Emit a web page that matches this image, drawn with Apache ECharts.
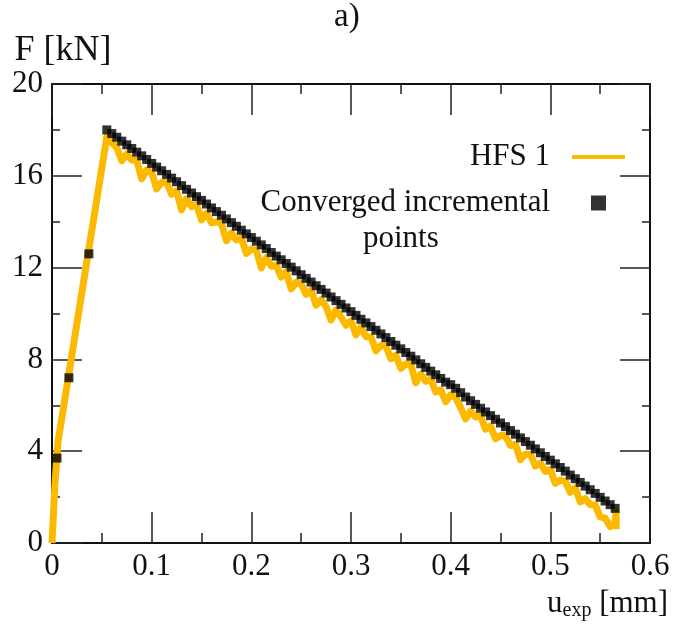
<!DOCTYPE html>
<html>
<head>
<meta charset="utf-8">
<script src="https://cdn.jsdelivr.net/npm/echarts@6/dist/echarts.min.js"></script>
<style>html,body{margin:0;padding:0;background:#fff}#c{width:685px;height:627px}</style>
</head>
<body>
<div id="c"></div>
<script>
// ---- data ----
const xTicks = [0, 0.1, 0.2, 0.3, 0.4, 0.5, 0.6];
const yTicks = [0, 4, 8, 12, 16, 20];

// HFS 1 curve: loading branch, softening branch, end
const hfsRiseX = [0, 0.003, 0.006];
const hfsRiseF = [0, 2.6, 4.4];
const descX = [
  0.055,0.060,0.065,0.070,0.075,0.080,0.085,0.090,0.095,0.100,
  0.105,0.110,0.115,0.120,0.125,0.130,0.135,0.140,0.145,0.150,
  0.155,0.160,0.165,0.170,0.175,0.180,0.185,0.190,0.195,0.200,
  0.205,0.210,0.215,0.220,0.225,0.230,0.235,0.240,0.245,0.250,
  0.255,0.260,0.265,0.270,0.275,0.280,0.285,0.290,0.295,0.300,
  0.305,0.310,0.315,0.320,0.325,0.330,0.335,0.340,0.345,0.350,
  0.355,0.360,0.365,0.370,0.375,0.380,0.385,0.390,0.395,0.400,
  0.405,0.410,0.415,0.420,0.425,0.430,0.435,0.440,0.445,0.450,
  0.455,0.460,0.465,0.470,0.475,0.480,0.485,0.490,0.495,0.500,
  0.505,0.510,0.515,0.520,0.525,0.530,0.535,0.540,0.545,0.550,
  0.555,0.560,0.565
];
const hfsDescF = [
  17.70,17.44,17.23,16.66,16.95,16.69,16.68,15.87,16.26,16.14,
  15.43,15.72,15.71,15.20,15.34,14.52,15.01,14.65,14.74,14.08,
  14.37,13.95,13.99,13.93,13.17,13.51,13.20,13.28,12.62,12.81,
  12.75,11.99,12.43,12.06,12.10,11.59,11.83,11.07,11.36,11.29,
  10.83,11.02,10.36,10.60,10.29,9.72,10.16,9.85,9.49,9.68,
  9.07,9.40,8.99,8.98,8.37,8.61,8.60,8.03,8.17,7.61,
  7.80,7.79,6.98,7.36,7.05,7.14,6.58,6.67,6.16,6.45,
  6.34,5.90,5.41,5.75,5.49,5.52,4.96,5.10,4.54,4.68,
  4.67,4.25,4.29,3.63,3.87,3.86,3.35,3.48,3.12,3.21,
  2.60,2.74,2.68,2.21,2.40,1.79,1.93,1.67,1.66,1.14,
  1.08,0.72,0.91
];
const hfsTailX = [0.566, 0.566];
const hfsTailF = [1.35, 0.60];

// Converged incremental points
const convRiseX = [0.005, 0.017, 0.037];
const convRiseF = [3.7, 7.2, 12.6];
const convDescF = [
  18.00,17.84,17.68,17.51,17.35,17.19,17.03,16.87,16.71,16.54,
  16.38,16.22,16.06,15.90,15.74,15.57,15.41,15.25,15.09,14.93,
  14.77,14.60,14.44,14.28,14.12,13.96,13.80,13.63,13.47,13.31,
  13.15,12.99,12.83,12.66,12.50,12.34,12.18,12.02,11.86,11.69,
  11.53,11.37,11.21,11.05,10.89,10.72,10.56,10.40,10.24,10.08,
  9.92,9.75,9.59,9.43,9.27,9.11,8.95,8.78,8.62,8.46,
  8.30,8.14,7.98,7.81,7.65,7.49,7.33,7.17,7.01,6.90,
  6.74,6.55,6.36,6.20,6.04,5.87,5.71,5.55,5.39,5.23,
  5.07,4.90,4.74,4.58,4.42,4.26,4.10,3.93,3.77,3.61,
  3.45,3.29,3.13,2.96,2.80,2.64,2.48,2.32,2.16,1.99,
  1.83,1.67,1.51
];

const seriesNames = ['HFS 1', 'Converged incremental points'];
const legendLabels = ['HFS 1', 'Converged incremental'];

// ---- build ----
function pairs(xs, ys) { return xs.map((x, i) => [x, ys[i]]); }
const hfsData = pairs(hfsRiseX, hfsRiseF).concat(pairs(descX, hfsDescF), pairs(hfsTailX, hfsTailF));
const convData = pairs(convRiseX, convRiseF).concat(pairs(descX, convDescF));

const SERIF = "'Liberation Serif', 'DejaVu Serif', serif";
const INK = '#111';
const YEL = '#FBB900';

function xAx(pos, showLabel) {
  return {
    type: 'value', position: pos, min: xTicks[0], max: xTicks[xTicks.length - 1], interval: 0.1,
    axisLine: { show: true, onZero: false, lineStyle: { color: INK, width: 2 } },
    axisTick: { show: true, inside: true, length: 31, lineStyle: { color: '#222', width: 1.5 } },
    minorTick: { show: true, splitNumber: 2, length: 10, lineStyle: { color: '#222', width: 1.5 } },
    splitLine: { show: false },
    axisLabel: { show: showLabel, margin: 8, fontFamily: SERIF, fontSize: 31, color: INK,
      formatter: v => String(Math.round(v * 10) / 10) }
  };
}
function yAx(pos, showLabel) {
  return {
    type: 'value', position: pos, min: yTicks[0], max: yTicks[yTicks.length - 1], interval: 4,
    axisLine: { show: true, onZero: false, lineStyle: { color: INK, width: 2 } },
    axisTick: { show: true, inside: true, length: 30, lineStyle: { color: '#222', width: 1.5 } },
    minorTick: { show: true, splitNumber: 2, length: 8, lineStyle: { color: '#222', width: 1.5 } },
    splitLine: { show: false },
    axisLabel: { show: showLabel, margin: 9, fontFamily: SERIF, fontSize: 31, color: INK }
  };
}

const xBottom = xAx('bottom', true);
xBottom.name = '{u|u}{s|exp}{u| [mm]}';
xBottom.nameLocation = 'end';
xBottom.nameGap = -103;
xBottom.nameTextStyle = {
  align: 'left', verticalAlign: 'top', padding: [44, 0, 0, 0],
  rich: {
    u: { fontFamily: SERIF, fontSize: 31, color: INK, lineHeight: 34 },
    s: { fontFamily: SERIF, fontSize: 20, color: INK, lineHeight: 20, verticalAlign: 'bottom' }
  }
};
const yLeft = yAx('left', true);
yLeft.name = 'F [kN]';
yLeft.nameLocation = 'end';
yLeft.nameGap = 13;
yLeft.nameTextStyle = { fontFamily: SERIF, fontSize: 36, color: INK, lineHeight: 36, align: 'center', padding: [0, 0, 0, 22] };

const chart = echarts.init(document.getElementById('c'), null, { renderer: 'canvas' });
chart.setOption({
  animation: false,
  backgroundColor: '#fff',
  title: { text: 'a)', left: 334, top: 1, padding: 0,
    textStyle: { fontFamily: SERIF, fontSize: 33, fontWeight: 'normal', color: INK } },
  grid: { left: 52, right: 35, top: 84, bottom: 84, containLabel: false, outerBoundsMode: 'none' },
  xAxis: [xBottom, xAx('top', false)],
  yAxis: [yLeft, yAx('right', false)],
  legend: {
    orient: 'vertical', right: 60, top: 139, padding: 0, align: 'right',
    itemWidth: 53, itemHeight: 15, itemGap: 10, selectedMode: false,
    formatter: n => legendLabels[seriesNames.indexOf(n)],
    textStyle: { fontFamily: SERIF, fontSize: 31, color: INK, lineHeight: 36, padding: [0, 17, 0, 0] },
    data: [
      { name: seriesNames[0], icon: 'path://M0,0L53,0L53,4L0,4Z', itemStyle: { color: YEL } },
      { name: seriesNames[1], icon: 'path://M0,0L10,0L10,10L0,10Z' }
    ]
  },
  graphic: [{
    type: 'text', left: 363, top: 223,
    style: { text: 'points', fontFamily: SERIF, fontSize: 31, fill: INK }
  }],
  series: [
    {
      name: seriesNames[0], type: 'line', data: hfsData, xAxisIndex: 0, yAxisIndex: 0,
      showSymbol: false, symbol: 'none', z: 2,
      lineStyle: { color: YEL, width: 7, join: 'round' }, itemStyle: { color: YEL }
    },
    {
      name: seriesNames[1], type: 'scatter', data: convData, xAxisIndex: 0, yAxisIndex: 0,
      symbol: 'rect', symbolSize: 9, z: 3, itemStyle: { color: '#000' }
    }
  ]
});
</script>
</body>
</html>
